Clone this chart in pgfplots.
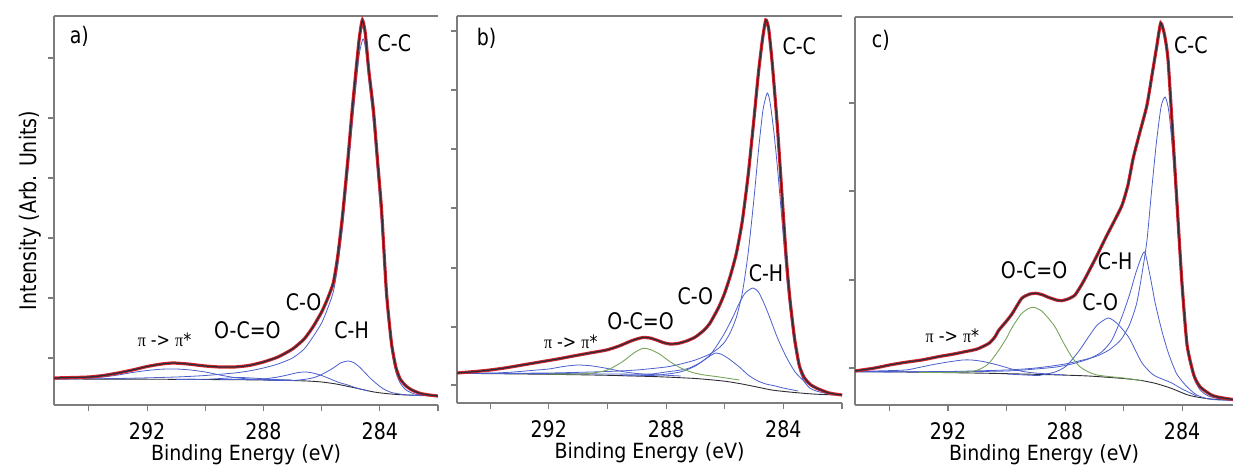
\documentclass[border=0pt]{standalone}
\usepackage{fontspec}
\setmainfont{DejaVu Sans}
\newfontfamily\serifpi{Liberation Serif}
\usepackage{pgfplots}
\pgfplotsset{compat=1.18}
\definecolor{dred}{RGB}{215,35,45}
\definecolor{fitk}{RGB}{45,45,55}
\definecolor{cblue}{RGB}{75,95,205}
\definecolor{cgreen}{RGB}{120,165,90}
\definecolor{spine}{RGB}{125,125,125}
\tikzset{
  lab/.style={font=\fontsize{19pt}{22pt}\selectfont, inner sep=0pt, yscale=1.2},
  pilab/.style={font=\fontsize{16pt}{19pt}\selectfont, inner sep=0pt, yscale=1.15},
}
\pgfplotsset{
  panel/.style={
    scale only axis, x dir=reverse, ymin=0,
    axis x line*=box, axis y line*=left,
    tick pos=left, tick align=outside,
    major tick length=6pt,
    every tick/.style={spine, line width=1.1pt},
    axis line style={spine, line width=1.2pt},
    xtick={282,284,286,288,290,292,294},
    xticklabels={,284,,288,,292,},
    xticklabel style={yshift=-7pt, yscale=1.2},
    yticklabels={},
    font=\fontsize{19pt}{22pt}\selectfont,
    /pgf/number format/assume math mode=true,
    xlabel={Binding Energy (eV)},
    xlabel style={at={(axis description cs:0.5,-0.128)}, anchor=center, yscale=1.1},
    clip=true,
  },
  dat/.style={dred, line width=3.2pt, smooth, tension=0.35},
  fit/.style={fitk, line width=1.3pt, smooth, tension=0.35},
  comp/.style={cblue, line width=0.8pt, smooth, tension=0.4},
  gcomp/.style={cgreen, line width=0.9pt, smooth, tension=0.4},
  bg/.style={fitk, line width=0.9pt, smooth, tension=0.4},
}
\begin{document}
\begin{tikzpicture}[x=1pt,y=1pt]
\path[use as bounding box] (0,0) rectangle (1233,468);
% ---------------- panel a ----------------
\begin{axis}[panel, at={(54pt,63pt)}, anchor=south west,
  width=384pt, height=389pt, xmin=282, xmax=295.2, ymax=389,
  ytick={47,107,167,227,287,347},
  ylabel={Intensity (Arb. Units)},
  ylabel style={at={(axis description cs:-0.0625,0.5)}, anchor=center, yscale=1.2}]
\addplot[bg] coordinates {(295.2,26) (292,25.8) (289,25.3) (287.5,24.8) (286.5,24) (286,23) (285.5,21) (285,18) (284.6,15.5) (284.2,13) (283.8,11.5) (283.3,10.3) (282.5,9.5) (282,9.2)};
\addplot[comp] coordinates {(295.2,26.2) (294.5,26.5) (294,27) (293.5,28) (293,30) (292.5,32.5) (292,34.5) (291.5,35.8) (291,36) (290.5,35) (290,33) (289.5,30) (289,27.5) (288.5,26) (288,25.5) (287,24.8)};
\addplot[comp] coordinates {(291,25.6) (290,25.7) (289.3,26.8) (288.8,27.5) (288.3,26.8) (287.6,25.5) (287,24.8)};
\addplot[comp] coordinates {(289.5,25.4) (288.5,25.5) (288,26) (287.5,28) (287.1,30.5) (286.8,32.5) (286.55,33) (286.3,32) (286,29.5) (285.7,26) (285.4,22.5) (285.1,20) (284.8,17) (284.4,14)};
\addplot[comp] coordinates {(288,24.8) (287,24.5) (286.5,26) (286.2,28) (285.9,32) (285.6,37) (285.35,42) (285.1,44) (284.9,42.5) (284.7,38) (284.5,32) (284.3,26) (284.1,21) (283.9,16.5) (283.6,12.5) (283.2,10.5) (282.8,9.5) (282,9.2)};
\addplot[comp] coordinates {(295.2,26) (293,26.5) (291,28) (290,29.5) (289,32) (288.5,34) (288,37) (287.5,41) (287,47) (286.6,56) (286.3,68) (286,82) (285.8,96) (285.6,113) (285.45,138) (285.28,178) (285.1,232) (284.95,280) (284.8,325) (284.7,352) (284.58,366) (284.5,358) (284.38,325) (284.22,282) (284.08,232) (283.94,180) (283.77,105) (283.6,56) (283.45,33) (283.3,22) (283.1,15) (282.8,11) (282.4,9.5) (282,9)};
\addplot[dat] coordinates {(295.2,27) (294.5,27.5) (294,28) (293.5,29.5) (293,32) (292.5,35) (292,38.5) (291.5,41) (291.1,42) (290.6,41) (290,39) (289.5,38) (289,38) (288.5,39.5) (288,43) (287.5,48) (287,56) (286.6,66) (286.3,78) (286,93) (285.8,106) (285.6,122) (285.45,148) (285.28,190) (285.1,245) (284.95,295) (284.8,340) (284.7,368) (284.6,385) (284.5,372) (284.38,335) (284.22,295) (284.08,245) (283.94,195) (283.77,112) (283.6,62) (283.45,38) (283.3,26) (283.1,19) (282.9,15) (282.6,11.5) (282.3,10) (282,9)};
\addplot[fit] coordinates {(295.2,27) (294.5,27.5) (294,28) (293.5,29.5) (293,32) (292.5,35) (292,38.5) (291.5,41) (291.1,42) (290.6,41) (290,39) (289.5,38) (289,38) (288.5,39.5) (288,43) (287.5,48) (287,56) (286.6,66) (286.3,78) (286,93) (285.8,106) (285.6,122) (285.45,148) (285.28,190) (285.1,245) (284.95,295) (284.8,340) (284.7,368) (284.6,385) (284.5,372) (284.38,335) (284.22,295) (284.08,245) (283.94,195) (283.77,112) (283.6,62) (283.45,38) (283.3,26) (283.1,19) (282.9,15) (282.6,11.5) (282.3,10) (282,9)};
\node[lab] at (axis cs:294.33,369) {a)};
\node[lab] at (axis cs:283.5,362) {C-C};
\node[lab] at (axis cs:286.62,103) {C-O};
\node[lab] at (axis cs:288.55,75) {O-C=O};
\node[lab] at (axis cs:284.97,75) {C-H};
\node[pilab] at (axis cs:291.4,65) {{\serifpi π} -> {\serifpi π}*};
\end{axis}
% ---------------- panel b ----------------
\begin{axis}[panel, at={(457pt,65pt)}, anchor=south west,
  width=385pt, height=387pt, xmin=282, xmax=295.13, ymax=387,
  ytick={18,76,135,195,254,313,372}]
\addplot[bg] coordinates {(295.13,29.7) (292,28.7) (290,27.7) (288.3,26.3) (287,24.5) (286.06,22) (285.5,19.5) (284.9,16) (284.4,13) (283.8,11) (283,9) (282.2,8) (282,8)};
\addplot[comp] coordinates {(295.13,29.8) (294.5,29.8) (293.8,30) (293.2,31) (292.6,32.5) (292,34) (291.5,36.5) (291,38) (290.5,37) (290,34.5) (289.5,31.5) (289,29.5) (288.5,28.5) (287.5,27)};
\addplot[comp] coordinates {(289.5,27.2) (288.5,27.5) (288.1,28.5) (287.7,30) (287.4,32) (287,37) (286.7,43) (286.45,48) (286.3,50) (286.1,48.5) (285.85,44) (285.5,36) (285.2,28) (284.9,22.5) (284.6,19) (284.35,17.5) (284,15) (283.5,12)};
\addplot[comp] coordinates {(295.13,29.6) (292,29.5) (290,29) (289,28.8) (288.5,29) (288,31) (287.5,33) (287.2,35) (286.8,41) (286.5,48) (286.3,56) (286,70) (285.72,86) (285.5,100) (285.3,110) (285.04,115) (284.85,111) (284.65,99) (284.47,86) (284.2,65) (283.9,46) (283.6,31) (283.3,22) (283.1,18) (282.8,13) (282.4,10) (282,8.5)};
\addplot[comp] coordinates {(295.13,29.5) (292,30) (290,31.5) (289,33) (288,36) (287.5,39) (287,43) (286.5,49) (286.2,55) (286,61) (285.8,71) (285.6,86) (285.4,110) (285.2,150) (285,205) (284.85,252) (284.7,292) (284.55,310) (284.45,300) (284.32,270) (284.2,235) (284.04,180) (283.9,130) (283.78,95) (283.62,58) (283.46,34) (283.3,22) (283.1,15) (282.88,12) (282.44,9) (282,8)};
\addplot[gcomp] coordinates {(292,28.8) (291,29) (290.5,30) (290,33) (289.5,41) (289.1,50) (288.78,54.7) (288.5,53) (288.2,48.5) (287.9,42) (287.5,35) (287.1,30.5) (286.7,28) (286.3,26.5) (285.5,23)};
\addplot[dat] coordinates {(295.13,30) (294.5,31.5) (294,33) (293.5,35) (292.9,38) (292.3,41) (291.7,44) (291.16,47) (290.6,50) (290.03,53) (289.6,57) (289.24,61.5) (289,64) (288.78,65.5) (288.55,65) (288.33,63) (288.1,60.5) (287.87,59) (287.6,59.5) (287.3,62) (287,66) (286.7,73) (286.5,80) (286.2,96) (286,110) (285.8,128) (285.6,150) (285.4,182) (285.2,228) (285,285) (284.85,330) (284.72,362) (284.6,383) (284.5,374) (284.38,340) (284.2,275) (284.04,205) (283.9,145) (283.78,105) (283.62,65) (283.46,38) (283.3,26) (283.1,19) (282.88,15) (282.44,10) (282,8)};
\addplot[fit] coordinates {(295.13,30) (294.5,31.5) (294,33) (293.5,35) (292.9,38) (292.3,41) (291.7,44) (291.16,47) (290.6,50) (290.03,53) (289.6,57) (289.24,61.5) (289,64) (288.78,65.5) (288.55,65) (288.33,63) (288.1,60.5) (287.87,59) (287.6,59.5) (287.3,62) (287,66) (286.7,73) (286.5,80) (286.2,96) (286,110) (285.8,128) (285.6,150) (285.4,182) (285.2,228) (285,285) (284.85,330) (284.72,362) (284.6,383) (284.5,374) (284.38,340) (284.2,275) (284.04,205) (283.9,145) (283.78,105) (283.62,65) (283.46,38) (283.3,26) (283.1,19) (282.88,15) (282.44,10) (282,8)};
\node[lab] at (axis cs:294.12,365) {b)};
\node[lab] at (axis cs:283.46,357) {C-C};
\node[lab] at (axis cs:284.59,130) {C-H};
\node[lab] at (axis cs:287.0,107) {C-O};
\node[lab] at (axis cs:288.87,82) {O-C=O};
\node[pilab] at (axis cs:291.25,61) {{\serifpi π} -> {\serifpi π}*};
\end{axis}
% ---------------- panel c ----------------
\begin{axis}[panel, at={(855pt,63pt)}, anchor=south west,
  width=378pt, height=388pt, xmin=282.26, xmax=295.18, ymax=388,
  ytick={37,125,214,302}]
\addplot[bg] coordinates {(295.18,33.5) (293,32.8) (290.6,31.7) (288.5,30.3) (287.2,29) (286,26.5) (285.4,24.5) (284.92,21.7) (284.4,17) (283.8,10) (283.3,7) (282.8,5.5) (282.26,5)};
\addplot[comp] coordinates {(295.18,33.6) (294.5,34) (293.45,35) (293,37.5) (292.5,40.5) (292,43) (291.5,45) (291.2,45) (290.8,43.5) (290.3,40) (289.7,35) (289.2,32.5) (288.8,31.5) (288,30)};
\addplot[comp] coordinates {(290,31) (289,29.5) (288.8,30) (288.34,33) (288,38) (287.77,45) (287.5,55) (287.2,68) (286.9,80) (286.52,87) (286.2,81) (285.83,68) (285.6,55) (285.37,42) (285.1,33) (284.92,29) (284.6,25) (284.35,22) (284,16) (283.5,9)};
\addplot[comp] coordinates {(295.18,33.5) (292,33.2) (290,34) (289,36) (288.3,38) (287.77,41) (287.2,46) (286.75,53) (286.4,65) (286.06,88) (285.8,110) (285.55,135) (285.29,153) (285.1,130) (284.92,102) (284.7,75) (284.47,52) (284.2,32) (283.95,22) (283.79,17) (283.5,10) (283.1,6) (282.7,5) (282.26,4.5)};
\addplot[comp] coordinates {(295.18,33) (292,33.5) (290,35) (289,37) (288,41) (287,48) (286.5,55) (286.1,65) (285.8,80) (285.55,102) (285.35,135) (285.2,165) (285.04,215) (284.88,262) (284.72,298) (284.58,308) (284.45,293) (284.3,245) (284.15,178) (284,112) (283.83,56) (283.6,27) (283.38,15) (283.1,9) (282.7,6) (282.26,5)};
\addplot[gcomp] coordinates {(293,32.6) (292,32.5) (291.2,33.5) (290.9,36) (290.6,41.7) (290.26,55) (290,67) (289.8,78) (289.5,91) (289.25,96.5) (289.06,97.7) (288.8,94) (288.55,86) (288.34,78) (288.05,62) (287.77,48) (287.5,38.5) (287.2,33) (286.9,30) (286.52,28.5) (286,27) (285.4,24.5)};
\addplot[dat] coordinates {(295.18,34) (294.5,37) (294,40) (293.5,42.5) (292.9,45) (292.3,48.5) (291.8,51) (291.42,53.3) (291,56) (290.6,61.7) (290.4,68) (290.26,75) (290,84) (289.8,91.7) (289.48,106.7) (289.2,111) (289,111.7) (288.8,110.5) (288.57,107.7) (288.3,105) (288.12,104.3) (287.9,106) (287.66,110) (287.4,122) (287.2,133) (286.9,150) (286.6,168) (286.3,185) (286.05,200) (285.85,220) (285.67,247) (285.45,272) (285.2,300) (285,335) (284.87,358) (284.73,382) (284.6,370) (284.48,345) (284.3,262) (284.15,190) (284,120) (283.83,60) (283.6,30) (283.38,18) (283,10) (282.7,7.5) (282.26,5.5)};
\addplot[fit] coordinates {(295.18,34) (294.5,37) (294,40) (293.5,42.5) (292.9,45) (292.3,48.5) (291.8,51) (291.42,53.3) (291,56) (290.6,61.7) (290.4,68) (290.26,75) (290,84) (289.8,91.7) (289.48,106.7) (289.2,111) (289,111.7) (288.8,110.5) (288.57,107.7) (288.3,105) (288.12,104.3) (287.9,106) (287.66,110) (287.4,122) (287.2,133) (286.9,150) (286.6,168) (286.3,185) (286.05,200) (285.85,220) (285.67,247) (285.45,272) (285.2,300) (285,335) (284.87,358) (284.73,382) (284.6,370) (284.48,345) (284.3,262) (284.15,190) (284,120) (283.83,60) (283.6,30) (283.38,18) (283,10) (282.7,7.5) (282.26,5.5)};
\node[lab] at (axis cs:294.3,365) {c)};
\node[lab] at (axis cs:283.7,360) {C-C};
\node[lab] at (axis cs:289.06,135) {O-C=O};
\node[lab] at (axis cs:286.29,144) {C-H};
\node[lab] at (axis cs:286.8,103) {C-O};
\node[pilab] at (axis cs:291.85,69) {{\serifpi π} -> {\serifpi π}*};
\end{axis}
\end{tikzpicture}
\end{document}
